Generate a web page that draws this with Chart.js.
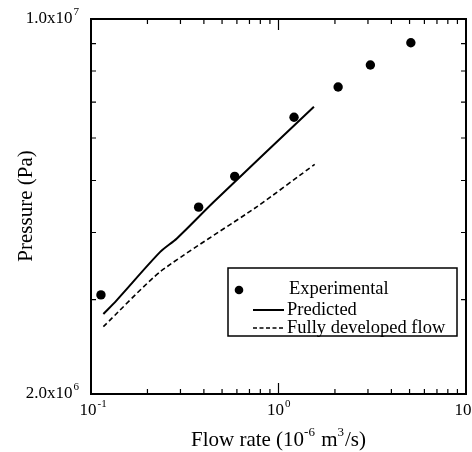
<!DOCTYPE html>
<html>
<head>
<meta charset="utf-8">
<script src="https://cdn.jsdelivr.net/npm/chart.js@4.4.1/dist/chart.umd.min.js"></script>
<style>
  html, body { margin: 0; padding: 0; background: #fff; }
  #wrap { width: 472px; height: 452px; }
</style>
</head>
<body>
<div id="wrap"><canvas id="grafico"></canvas></div>
<script>
/* Presión frente a caudal, ejes logarítmicos */

// Puntos experimentales
const expX = [0.113, 0.375, 0.584, 1.21, 2.08, 3.09, 5.08];
const expY = [3.06e6, 4.46e6, 5.09e6, 6.56e6, 7.47e6, 8.21e6, 9.03e6];

// Curva predicha
const predX = [0.1164, 0.137, 0.234, 0.287, 0.451, 1.545];
const predY = [2.82e6, 2.99e6, 3.68e6, 3.90e6, 4.56e6, 6.86e6];

// Flujo completamente desarrollado
const fdfX = [0.1164, 0.234, 0.769, 1.56];
const fdfY = [2.67e6, 3.38e6, 4.47e6, 5.36e6];

// Límites y marcas de los ejes
const xMin = 0.1, xMax = 10;
const yMin = 2e6, yMax = 1e7;
const xMajor = [0.1, 1, 10];
const xMinor = [0.2, 0.3, 0.4, 0.5, 0.6, 0.7, 0.8, 0.9, 2, 3, 4, 5, 6, 7, 8, 9];
const yMinor = [3e6, 4e6, 5e6, 6e6, 7e6, 8e6, 9e6];
const xTickLabels = [['10', '-1'], ['10', '0'], ['10', '']];
const yTickLabels = [['1.0x10', '7'], ['2.0x10', '6']];

const FUENTE = '"Liberation Serif", "DejaVu Serif", serif';

const toPts = (xs, ys) => xs.map((x, i) => ({ x, y: ys[i] }));

// Texto con exponente; x es el centro de la base o el borde derecho
function textoSup(ctx, base, sup, x, y, size, align) {
  const ss = Math.round(size * 0.62);
  ctx.font = `${size}px ${FUENTE}`;
  const wb = ctx.measureText(base).width;
  ctx.font = `${ss}px ${FUENTE}`;
  const ws = ctx.measureText(sup).width;
  let x0 = x;
  if (align === 'center') x0 = x - wb / 2;
  if (align === 'right') x0 = x - wb - ws - 1;
  ctx.textAlign = 'left';
  ctx.textBaseline = 'alphabetic';
  ctx.font = `${size}px ${FUENTE}`;
  ctx.fillText(base, x0, y);
  ctx.font = `${ss}px ${FUENTE}`;
  ctx.fillText(sup, x0 + wb + 1, y - size * 0.45);
}

const ejesPlugin = {
  id: 'ejes',
  afterDatasetsDraw(chart) {
    const { ctx, chartArea: a, scales } = chart;
    const sx = scales.x, sy = scales.y;
    ctx.save();
    ctx.strokeStyle = '#000';
    ctx.fillStyle = '#000';

    // marco
    ctx.lineWidth = 2;
    ctx.strokeRect(a.left, a.top, a.right - a.left, a.bottom - a.top);

    // marcas hacia dentro
    ctx.lineWidth = 1.2;
    ctx.beginPath();
    xMinor.forEach(v => {
      const px = sx.getPixelForValue(v);
      ctx.moveTo(px, a.bottom); ctx.lineTo(px, a.bottom - 5);
      ctx.moveTo(px, a.top); ctx.lineTo(px, a.top + 5);
    });
    xMajor.forEach(v => {
      const px = sx.getPixelForValue(v);
      ctx.moveTo(px, a.bottom); ctx.lineTo(px, a.bottom - 11);
      ctx.moveTo(px, a.top); ctx.lineTo(px, a.top + 11);
    });
    yMinor.forEach(v => {
      const py = sy.getPixelForValue(v);
      ctx.moveTo(a.left, py); ctx.lineTo(a.left + 5, py);
      ctx.moveTo(a.right, py); ctx.lineTo(a.right - 5, py);
    });
    ctx.stroke();

    // etiquetas del eje x
    xMajor.forEach((v, i) => {
      const px = sx.getPixelForValue(v);
      textoSup(ctx, xTickLabels[i][0], xTickLabels[i][1], px - 3, a.bottom + 21, 17, 'center');
    });

    // etiquetas del eje y
    textoSup(ctx, yTickLabels[0][0], yTickLabels[0][1], a.left - 12, sy.getPixelForValue(yMax) + 4, 17, 'right');
    textoSup(ctx, yTickLabels[1][0], yTickLabels[1][1], a.left - 12, sy.getPixelForValue(yMin) + 4, 17, 'right');

    // título del eje x
    const partes = [['Flow rate (10', 21, 0], ['-6', 13, -10], [' m', 21, 0], ['3', 13, -10], ['/s)', 21, 0]];
    let total = 0;
    partes.forEach(([s, sz]) => { ctx.font = `${sz}px ${FUENTE}`; total += ctx.measureText(s).width + (sz === 13 ? 1 : 0); });
    let xt = (a.left + a.right) / 2 - total / 2;
    ctx.textAlign = 'left';
    partes.forEach(([s, sz, dy]) => {
      ctx.font = `${sz}px ${FUENTE}`;
      ctx.fillText(s, xt, 446 + dy);
      xt += ctx.measureText(s).width + (sz === 13 ? 1 : 0);
    });

    // título del eje y
    ctx.save();
    ctx.translate(32, 206);
    ctx.rotate(-Math.PI / 2);
    ctx.font = `21px ${FUENTE}`;
    ctx.textAlign = 'center';
    ctx.fillText('Pressure (Pa)', 0, 0);
    ctx.restore();

    // leyenda
    const lx = 228, ly = 268, lw = 229, lh = 68;
    ctx.fillStyle = '#fff';
    ctx.fillRect(lx, ly, lw, lh);
    ctx.lineWidth = 1.5;
    ctx.strokeRect(lx, ly, lw, lh);
    ctx.fillStyle = '#000';
    ctx.beginPath();
    ctx.arc(239, 290, 4.3, 0, Math.PI * 2);
    ctx.fill();
    ctx.font = `18.5px ${FUENTE}`;
    ctx.textAlign = 'left';
    ctx.textBaseline = 'middle';
    ctx.fillText('Experimental', 289, 289);
    ctx.fillText('Predicted', 287, 310);
    ctx.fillText('Fully developed flow', 287, 328);
    ctx.lineWidth = 2;
    ctx.beginPath();
    ctx.moveTo(253, 310); ctx.lineTo(284, 310);
    ctx.stroke();
    ctx.lineWidth = 1.5;
    ctx.setLineDash([4, 2.5]);
    ctx.beginPath();
    ctx.moveTo(253, 328); ctx.lineTo(284, 328);
    ctx.stroke();
    ctx.restore();
  }
};

new Chart(document.getElementById('grafico'), {
  type: 'scatter',
  data: {
    datasets: [
      {
        label: 'Experimental',
        data: toPts(expX, expY),
        pointRadius: 4.7,
        pointBackgroundColor: '#000',
        pointBorderWidth: 0,
        showLine: false,
      },
      {
        label: 'Predicted',
        data: toPts(predX, predY),
        showLine: true,
        borderColor: '#000',
        borderWidth: 2,
        pointRadius: 0,
        tension: 0.3,
      },
      {
        label: 'Fully developed flow',
        data: toPts(fdfX, fdfY),
        showLine: true,
        borderColor: '#000',
        borderWidth: 1.6,
        borderDash: [5, 3],
        pointRadius: 0,
        tension: 0.2,
      },
    ]
  },
  options: {
    responsive: true,
    maintainAspectRatio: false,
    animation: false,
    layout: { padding: { left: 91, top: 19, right: 6, bottom: 58 } },
    plugins: {
      legend: { display: false },
      tooltip: { enabled: false },
    },
    scales: {
      x: { type: 'logarithmic', min: xMin, max: xMax, display: false },
      y: { type: 'logarithmic', min: yMin, max: yMax, display: false },
    }
  },
  plugins: [ejesPlugin]
});
</script>
</body>
</html>
